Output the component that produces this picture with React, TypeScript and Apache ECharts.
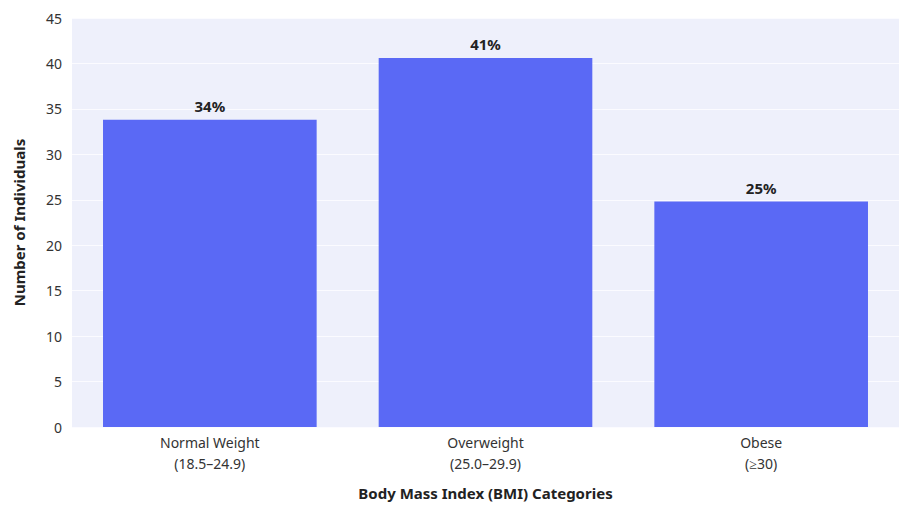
import React, { useEffect, useRef } from "react";
import * as echarts from "echarts";

const categories = ["Normal Weight\n(18.5–24.9)", "Overweight\n(25.0–29.9)", "Obese\n(≥30)"];
const counts = [33.8, 40.6, 24.8];
const percentLabels = ["34%", "41%", "25%"];

export default function App() {
  const ref = useRef<HTMLDivElement>(null);
  useEffect(() => {
    const chart = echarts.init(ref.current!, null, { renderer: "svg" });
    chart.setOption({
      animation: false,
      textStyle: { fontFamily: "Noto Sans" },
      grid: {
        left: 72,
        width: 843,
        top: 18,
        height: 410,
        show: true,
        backgroundColor: "#EEF0FB",
        borderWidth: 0,
      },
      xAxis: {
        type: "category",
        data: categories,
        axisLine: { show: false },
        axisTick: { show: false },
        axisLabel: { color: "#333", fontSize: 14, lineHeight: 21, margin: 5 },
        name: "Body Mass Index (BMI) Categories",
        nameLocation: "middle",
        nameGap: 58,
        nameTextStyle: { color: "#222", fontSize: 15, fontWeight: "bold" },
      },
      yAxis: {
        type: "value",
        min: 0,
        max: 45,
        interval: 5,
        axisLine: { show: false },
        axisTick: { show: false },
        splitLine: { lineStyle: { color: "#FBFBFF", width: 1 } },
        axisLabel: { color: "#333", fontSize: 14, margin: 10 },
        name: "Number of Individuals",
        nameLocation: "middle",
        nameGap: 46,
        nameTextStyle: { color: "#222", fontSize: 15, fontWeight: "bold" },
      },
      series: [
        {
          type: "bar",
          data: counts,
          barWidth: "77.5%",
          itemStyle: { color: "#5A69F5" },
          label: {
            show: true,
            position: "top",
            distance: 6,
            color: "#222",
            fontSize: 15,
            fontWeight: "bold",
            formatter: (p: any) => percentLabels[p.dataIndex],
          },
        },
      ],
    });
    return () => chart.dispose();
  }, []);
  return (
    <div
      ref={ref}
      style={{ position: "fixed", left: 0, top: 0, width: 899, height: 505, background: "#fff", overflow: "hidden" }}
    />
  );
}
